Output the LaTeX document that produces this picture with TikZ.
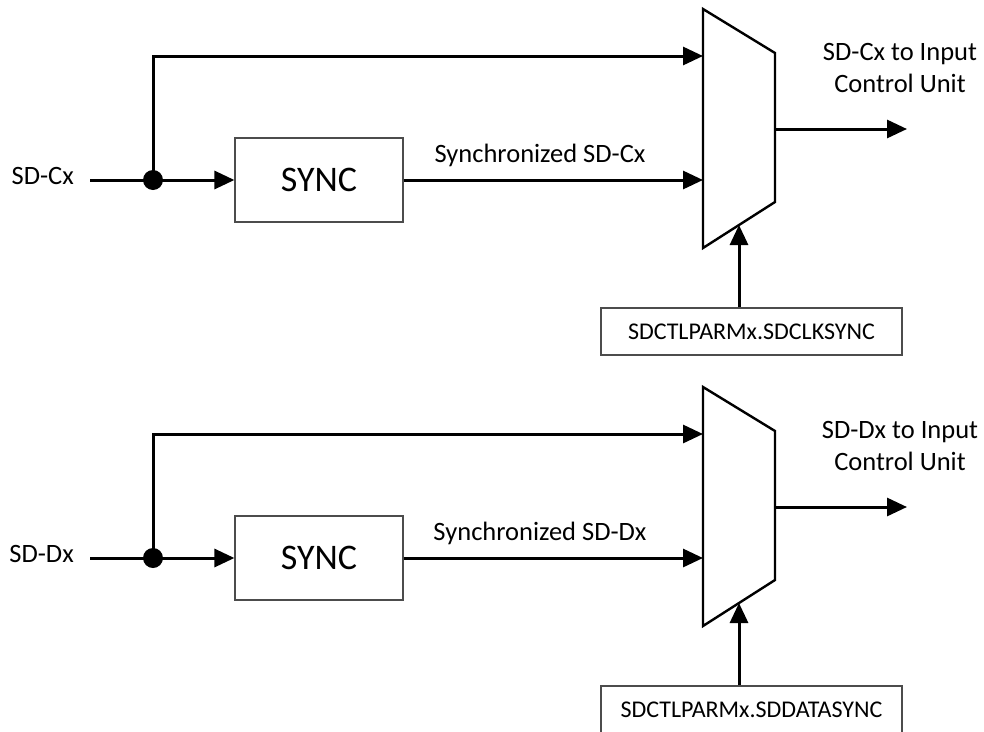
\documentclass[tikz,border=0pt]{standalone}
\usepackage{fontspec}
\setmainfont{Carlito}
\usetikzlibrary{arrows.meta}
\tikzset{
  wire/.style={line width=3pt},
  arr/.style={wire,-{Triangle[length=20pt,width=18pt]}},
  box/.style={draw=black!70,line width=1.2pt,rectangle,inner sep=0pt},
  muxshape/.style={draw=black,line width=2.4pt,line join=miter},
  lbl/.style={font=\fontsize{26.5}{32}\selectfont,inner sep=0pt},
  junction/.style={circle,fill=black,minimum size=20pt,inner sep=0pt},
}
\newcommand\muxstage[6]{%
\begin{scope}[yshift=-#1pt]
  \node[lbl,anchor=base east,inner xsep=16pt] (#2in) at (90,184) {#3};
  \node[junction] (#2dot) at (153,180) {};
  \node[box,minimum width=168pt,minimum height=84pt,font=\fontsize{36}{40}\selectfont] (#2sync) at (319,180) {SYNC};
  \draw[muxshape] (703,9) coordinate (#2tl) -- (775,53) coordinate (#2tr) -- (775,202) coordinate (#2br) -- (703,248) coordinate (#2bl) -- cycle;
  \coordinate (#2ia) at (703,56);
  \coordinate (#2ib) at (703,180);
  \coordinate (#2o) at (775,129);
  \coordinate (#2oe) at (907,129);
  \coordinate (#2sel) at (739,225);
  \node[box,minimum width=301pt,minimum height=47pt,font=\fontsize{24}{28}\selectfont] (#2ctl) at (751.5,331.5) {#6};
  \draw[wire] (#2in.east |- #2dot.center) -- (#2dot.center);
  \draw[arr] (#2dot.center) -- (#2sync.west);
  \draw[arr] (#2dot.center) |- (#2ia);
  \draw[arr] (#2sync.east) -- (#2ib);
  \node[lbl,anchor=base] (#2syl) at (540,162) {#4};
  \draw[arr] (#2o) -- (#2oe);
  \node[lbl,align=center,anchor=base] (#2outl) at (900,92) {#5};
  \draw[arr] (#2sel |- #2ctl.north) -- (#2sel);
\end{scope}}
\begin{document}
\begin{tikzpicture}[x=1pt,y=-1pt]
  \useasboundingbox (0,0) rectangle (984,731);
  \clip (0,0) rectangle (984,731);
  \muxstage{0}{c}{SD-Cx}{Synchronized SD-Cx}{SD-Cx to Input\\Control Unit}{SDCTLPARMx.SDCLKSYNC}
  \muxstage{378}{d}{SD-Dx}{Synchronized SD-Dx}{SD-Dx to Input\\Control Unit}{SDCTLPARMx.SDDATASYNC}
\end{tikzpicture}
\end{document}
